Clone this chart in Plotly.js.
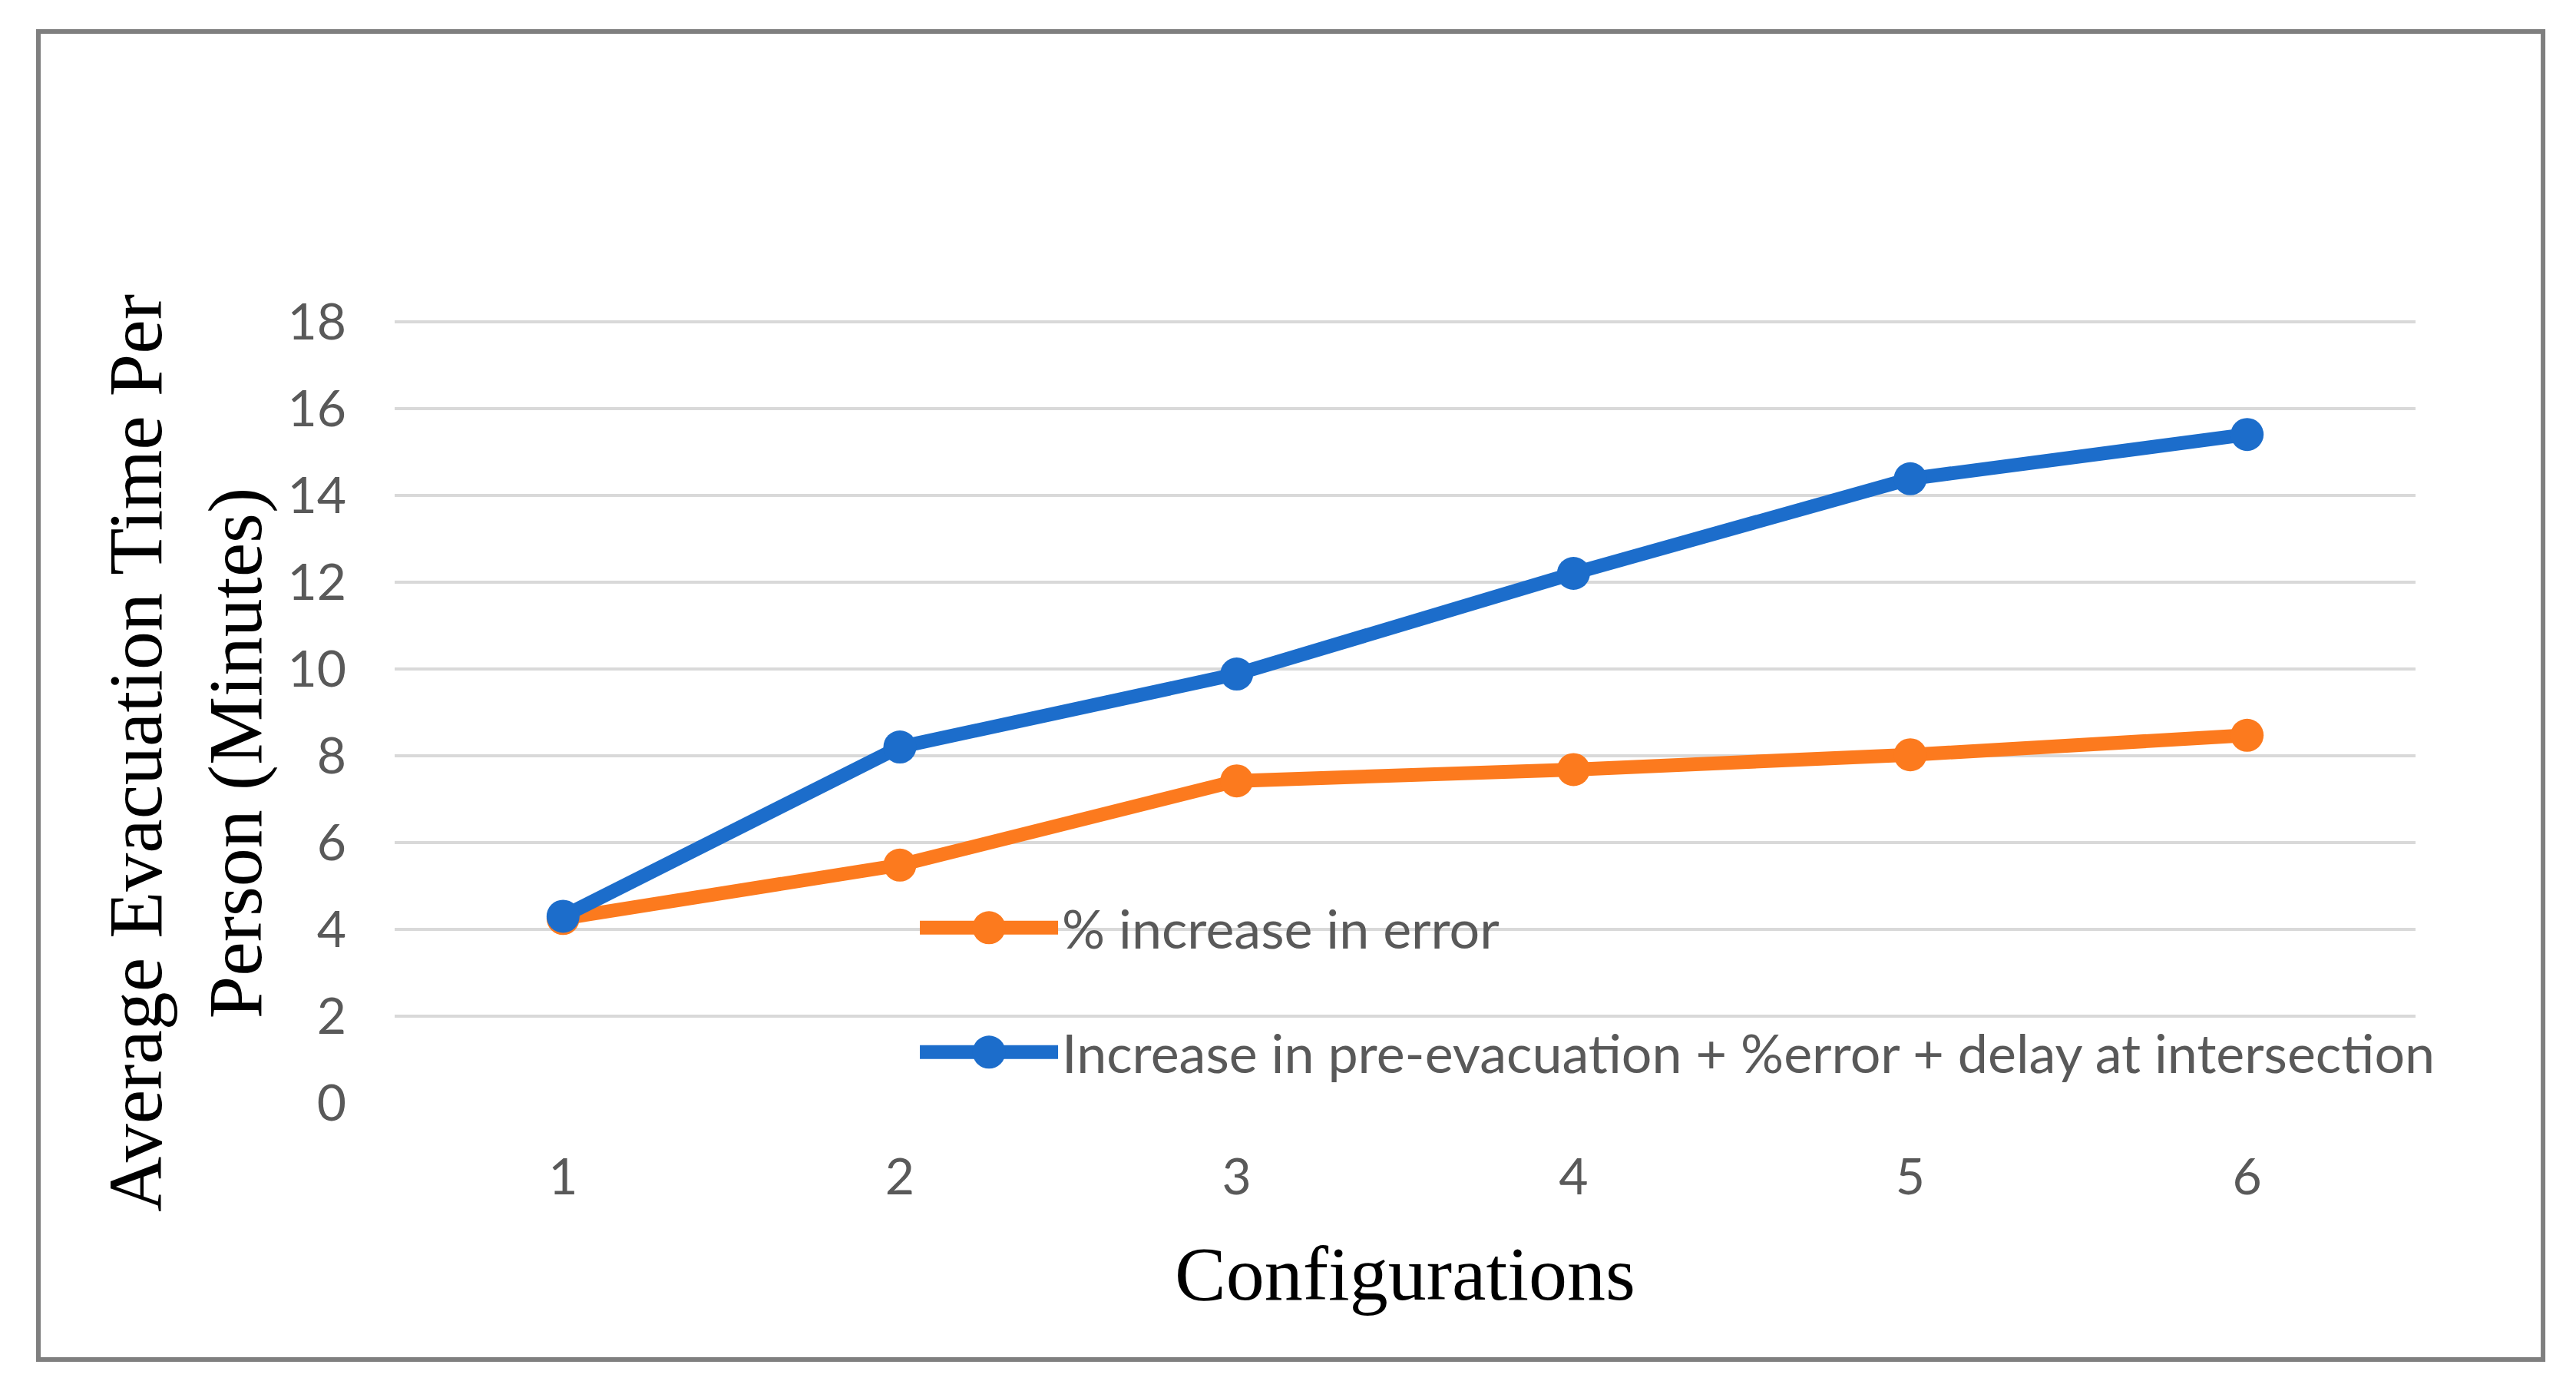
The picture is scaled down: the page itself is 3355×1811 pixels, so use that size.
<!DOCTYPE html>
<html>
<head>
<meta charset="utf-8">
<script src="https://cdn.plot.ly/plotly-3.0.1.min.js"></script>
<style>html,body{margin:0;padding:0;background:#fff;}#chart{width:3355px;height:1811px;}</style>
</head>
<body>
<div id="chart"></div>
<script>
const configurations = ['1', '2', '3', '4', '5', '6'];
const errorIncrease = [4.25, 5.48, 7.42, 7.68, 8.02, 8.47];
const combinedIncrease = [4.3, 8.2, 9.88, 12.2, 14.38, 15.4];
const seriesNames = ['% increase in error', 'Increase in pre-evacuation + %error + delay at intersection'];
const yTicks = [0, 2, 4, 6, 8, 10, 12, 14, 16, 18];
const xTitle = 'Configurations';
const yTitle = 'Average Evacuation Time Per<br>Person (Minutes)';

const orange = '#FC7A1E';
const blue = '#1C6DCB';
const seriesColors = [orange, blue];
const LINE_W = 18;
const MARKER_D = 43;

const traces = [
  {
    x: configurations, y: errorIncrease, name: seriesNames[0], type: 'scatter', mode: 'lines+markers',
    line: {color: orange, width: LINE_W}, marker: {color: orange, size: MARKER_D},
    legendgroup: 'a', cliponaxis: false
  },
  {
    x: configurations, y: combinedIncrease, name: seriesNames[1], type: 'scatter', mode: 'lines+markers',
    line: {color: blue, width: LINE_W}, marker: {color: blue, size: MARKER_D},
    legendgroup: 'b', cliponaxis: false
  }
];

const tickFont = {family: 'Lato, "Liberation Sans", sans-serif', size: 66, color: '#595959'};
const serifFont = {family: '"Liberation Serif", "Times New Roman", serif', size: 100, color: '#000000'};

const layout = {
  width: 3355, height: 1811,
  margin: {l: 514, r: 209, t: 417, b: 375},
  paper_bgcolor: '#ffffff', plot_bgcolor: '#ffffff',
  showlegend: true,
  legend: {
    x: 0.258, y: 0.275, xanchor: 'left', yanchor: 'top',
    bgcolor: 'rgba(0,0,0,0)', borderwidth: 0,
    font: {family: 'Lato, "Liberation Sans", sans-serif', size: 70, color: '#595959'},
    itemwidth: 180, traceorder: 'grouped', tracegroupgap: 68
  },
  xaxis: {
    type: 'category', categoryarray: configurations, range: [-0.5, 5.5],
    showgrid: false, zeroline: false, showline: false, ticks: '',
    tickfont: tickFont, ticklabelstandoff: 52,
    title: {text: xTitle, font: serifFont, standoff: 53},
    automargin: false
  },
  yaxis: {
    range: [0, 18.03], tickvals: yTicks, ticktext: yTicks.map(String),
    showgrid: true, gridcolor: '#D9D9D9', gridwidth: 4,
    zeroline: false, showline: false, ticks: '',
    tickfont: tickFont, ticklabelstandoff: 62,
    automargin: false
  },
  annotations: [
    {text: yTitle, xref: 'paper', yref: 'paper', x: -0.1037, y: 0.4465,
     xanchor: 'center', yanchor: 'middle', textangle: -90, showarrow: false,
     font: serifFont, align: 'center'}
  ],
  shapes: [
    {type: 'rect', xref: 'paper', yref: 'paper', x0: -0.1763, x1: 1.0631, y0: -0.3278, y1: 1.369,
     line: {color: '#7F7F7F', width: 6}, fillcolor: 'rgba(0,0,0,0)', layer: 'below'}
  ]
};

Plotly.newPlot('chart', traces, layout, {displayModeBar: false, staticPlot: true}).then(function () {
  // Plotly caps legend symbol sizes; enlarge them to match the series styling.
  const r = MARKER_D / 2;
  const circle = 'M' + r + ',0A' + r + ',' + r + ' 0 1,1 0,-' + r + 'A' + r + ',' + r + ' 0 0,1 ' + r + ',0Z';
  document.querySelectorAll('#chart .legend .traces').forEach(function (g, i) {
    const col = seriesColors[i % seriesColors.length];
    g.querySelectorAll('.legendpoints path').forEach(function (p) {
      p.setAttribute('d', circle);
      p.style.fill = col;
      p.style.fillOpacity = 1;
      p.style.opacity = 1;
      p.style.stroke = 'none';
    });
    g.querySelectorAll('.legendlines path').forEach(function (p) {
      p.style.strokeWidth = LINE_W + 'px';
    });
  });
});
</script>
</body>
</html>
